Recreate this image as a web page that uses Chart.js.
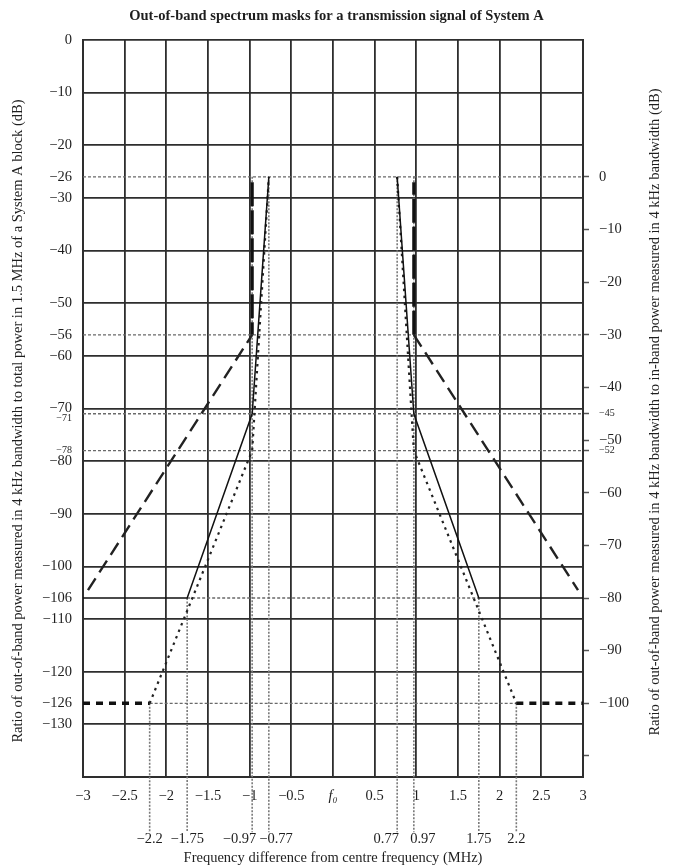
<!DOCTYPE html>
<html><head><meta charset="utf-8">
<script src="https://cdn.jsdelivr.net/npm/chart.js@4/dist/chart.umd.min.js"></script>
<style>html,body{margin:0;padding:0;background:#fff}canvas{display:block}</style>
</head><body>
<canvas id="c" width="673" height="867"></canvas>
<script>
// ---------- text ----------
const titleText = 'Out-of-band spectrum masks for a transmission signal of System A';
const xAxisTitle = 'Frequency difference from centre frequency (MHz)';
const leftAxisTitle = 'Ratio of out-of-band power measured in 4 kHz bandwidth to total power in 1.5 MHz of a System A block (dB)';
const rightAxisTitle = 'Ratio of out-of-band power measured in 4 kHz bandwidth to in-band power measured in 4 kHz bandwidth (dB)';

// ---------- ticks ----------
const xTicks = [-3, -2.5, -2, -1.5, -1, -0.5, 0, 0.5, 1, 1.5, 2, 2.5, 3];
const xBreakpoints = [-2.2, -1.75, -0.97, -0.77, 0.77, 0.97, 1.75, 2.2];
// label nudges for the crowded breakpoint labels: spaces after (-) / before (+)
const xBreakpointPad = [0, 0, -7, 4, -6, 5, 0, 0];
const yLeftTicks = [0, -10, -20, -26, -30, -40, -50, -56, -60, -70, -71, -78, -80, -90, -100, -106, -110, -120, -126, -130];
const yLeftSmall = [-71, -78];
const yLeftNudgedDown = [-71];
const yRightTicks = [0, -10, -20, -30, -40, -45, -50, -52, -60, -70, -80, -90, -100, -110];
const yRightSmall = [-45, -52];
const yRightUnlabelled = [-110];
const rightOffset = 26;            // right-axis dB = left-axis dB + 26

// ---------- masks (MHz, dB on left axis) ----------
// non-critical mask (long dashes)
const nonCritVertFreq  = [-0.97, -0.97, null, 0.97, 0.97];
const nonCritVertLevel = [-27, -56, null, -56, -27];
const nonCritSlopeFreq  = [-2.94, -0.97, null, 0.97, 2.94];
const nonCritSlopeLevel = [-104.5, -56, null, -56, -104.5];
// critical mask (solid)
const critFreq  = [-3, -1.75, -0.97, -0.77, null, 0.77, 0.97, 1.75, 3];
const critLevel = [-106, -106, -71, -26, null, -26, -71, -106, -106];
// special-case mask (dotted)
const specFreq  = [-2.2, -0.97, -0.77, null, 0.77, 0.97, 2.2];
const specLevel = [-126, -78, -26, null, -26, -78, -126];
const specFloorFreq  = [-3, -2.2, null, 2.2, 3];
const specFloorLevel = [-126, -126, null, -126, -126];

// ---------- reference (construction) lines ----------
const refFullLevels = [-26, -56, -71, -78];
const refInnerLevels = [-106, -126];
const refInnerHalfWidth = [1.75, 2.2];
const refDropFreq = [-2.2, -1.75, -0.97, -0.77, 0.77, 0.97, 1.75, 2.2];
const refDropTop  = [-126, -106, -26, -26, -26, -26, -106, -126];
const refDropBottom = -150.5;

// ---------- build ----------
const pts = (xs, ys) => xs.map((x, i) => x === null ? {x: NaN, y: NaN} : {x: x, y: ys[i]});
const refH = [];
refFullLevels.forEach(v => { refH.push({x: -3, y: v}, {x: 3, y: v}, {x: NaN, y: NaN}); });
refInnerLevels.forEach((v, i) => { refH.push({x: -refInnerHalfWidth[i], y: v}, {x: refInnerHalfWidth[i], y: v}, {x: NaN, y: NaN}); });
const refV = [];
refDropFreq.forEach((f, i) => { refV.push({x: f, y: refDropTop[i]}, {x: f, y: refDropBottom}, {x: NaN, y: NaN}); });

const FONT = '"Liberation Serif", "Times New Roman", serif';
const FS = 14.5;
const INK = '#1e1e1e';
const GRID = '#2e2e2e';
const fmt = v => v < 0 ? '\u2212' + Math.abs(v) : String(v);
const padLabel = (s, n) => n < 0 ? s + ' '.repeat(-n) : ' '.repeat(n) + s;

const line = (data, o) => Object.assign({data, showLine: true, fill: false, pointRadius: 0, spanGaps: false, borderCapStyle: 'butt'}, o);

const yTitles = {
  id: 'yTitles',
  afterDraw(chart) {
    const {ctx} = chart;
    ctx.save();
    ctx.font = FS + 'px ' + FONT;
    ctx.fillStyle = INK;
    ctx.textAlign = 'center';
    ctx.textBaseline = 'middle';
    ctx.save(); ctx.translate(18, 421); ctx.rotate(-Math.PI / 2); ctx.fillText(leftAxisTitle, 0, 0); ctx.restore();
    ctx.save(); ctx.translate(655, 412); ctx.rotate(-Math.PI / 2); ctx.fillText(rightAxisTitle, 0, 0); ctx.restore();
    ctx.restore();
  }
};

new Chart(document.getElementById('c'), {
  type: 'scatter',
  data: {
    datasets: [
      line(pts(critFreq, critLevel), {borderColor: '#111', borderWidth: 1.5}),
      line(pts(nonCritVertFreq, nonCritVertLevel), {borderColor: '#111', borderWidth: 3.2, borderDash: [24, 4]}),
      line(pts(nonCritSlopeFreq, nonCritSlopeLevel), {borderColor: '#222', borderWidth: 2.4, borderDash: [14, 7]}),
      line(pts(specFreq, specLevel), {borderColor: '#222', borderWidth: 2.2, borderDash: [2.5, 4.5]}),
      line(pts(specFloorFreq, specFloorLevel), {borderColor: '#111', borderWidth: 3.5, borderDash: [7, 6]}),
      line(refH, {borderColor: '#6a6a6a', borderWidth: 1.3, borderDash: [3, 2]}),
      line(refV, {borderColor: '#7a7a7a', borderWidth: 1.6, borderDash: [2, 1.5], clip: false})
    ]
  },
  options: {
    responsive: false,
    devicePixelRatio: 1,
    animation: false,
    events: [],
    layout: {padding: 0},
    plugins: {
      legend: {display: false},
      tooltip: {enabled: false},
      title: {
        display: true, text: titleText, color: INK,
        font: {family: FONT, size: FS, weight: 'bold', lineHeight: 1.2},
        padding: {top: 7.5, bottom: 15.1}
      }
    },
    scales: {
      x: {
        type: 'linear', position: 'bottom', min: -3, max: 3,
        afterBuildTicks: s => { s.ticks = xTicks.concat(xBreakpoints).sort((a, b) => a - b).map(v => ({value: v})); },
        afterFit: s => { s.height = 90; },
        grid: {
          drawTicks: false,
          color: c => (c.tick && xTicks.includes(c.tick.value)) ? GRID : 'rgba(0,0,0,0)',
          lineWidth: 1.8
        },
        border: {display: true, color: GRID, width: 2},
        ticks: {
          autoSkip: false, maxRotation: 0, minRotation: 0, padding: 10, color: INK,
          font: c => {
            const v = c.tick ? c.tick.value : 1;
            if (xBreakpoints.includes(v)) return {family: FONT, size: FS, lineHeight: '35px'};
            if (v === 0) return {family: FONT, size: FS, style: 'italic', lineHeight: 1.2};
            return {family: FONT, size: FS, lineHeight: 1.2};
          },
          callback: v => {
            const k = xBreakpoints.indexOf(v);
            if (k >= 0) return ['', padLabel(fmt(v), xBreakpointPad[k])];
            if (v === 0) return 'f\u2080';
            return fmt(v);
          }
        },
        title: {display: true, text: xAxisTitle, color: INK, font: {family: FONT, size: FS}, padding: {top: 0, bottom: 0}}
      },
      y: {
        type: 'linear', position: 'left', min: -140, max: 0,
        afterBuildTicks: s => { s.ticks = yLeftTicks.map(v => ({value: v})); },
        afterFit: s => { s.width = 83; },
        grid: {
          drawTicks: false,
          color: c => (c.tick && c.tick.value % 10 === 0) ? GRID : 'rgba(0,0,0,0)',
          lineWidth: 1.8
        },
        border: {display: true, color: GRID, width: 2},
        ticks: {
          autoSkip: false, padding: 11, color: INK,
          font: c => {
            const v = c.tick ? c.tick.value : 1;
            if (yLeftNudgedDown.includes(v)) return {family: FONT, size: 10, lineHeight: '10px'};
            return {family: FONT, size: yLeftSmall.includes(v) ? 10 : FS};
          },
          callback: v => yLeftNudgedDown.includes(v) ? ['', fmt(v)] : fmt(v)
        }
      },
      y2: {
        type: 'linear', position: 'right', min: -140 + rightOffset, max: 0 + rightOffset,
        afterBuildTicks: s => { s.ticks = yRightTicks.map(v => ({value: v})); },
        afterFit: s => { s.width = 90; },
        grid: {drawOnChartArea: false, drawTicks: true, tickLength: 6, tickColor: '#555', tickWidth: 1.5, color: '#555'},
        border: {display: true, color: GRID, width: 2},
        ticks: {
          autoSkip: false, padding: 10, color: INK,
          font: c => ({family: FONT, size: (c.tick && yRightSmall.includes(c.tick.value)) ? 10 : FS}),
          callback: v => yRightUnlabelled.includes(v) ? '' : fmt(v)
        }
      }
    }
  },
  plugins: [yTitles]
});
</script>
</body></html>
